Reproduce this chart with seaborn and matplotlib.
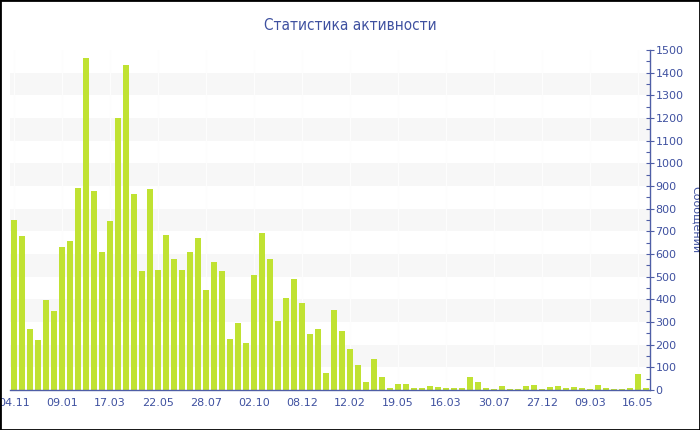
import matplotlib
matplotlib.use("Agg")
import matplotlib.pyplot as plt
import seaborn as sns
import pandas as pd
from matplotlib.patches import Rectangle
from matplotlib.ticker import MultipleLocator

title = "Статистика активности"
y_label = "Сообщений"

tick_labels = ["04.11", "09.01", "17.03", "22.05", "28.07", "02.10", "08.12",
               "12.02", "19.05", "16.03", "30.07", "27.12", "09.03", "16.05"]

values = [750, 680, 270, 221, 396, 349, 629, 657, 893, 1466,
          878, 607, 746, 1199, 1434, 863, 525, 888, 528, 685,
          578, 528, 609, 669, 443, 563, 526, 224, 297, 206,
          509, 694, 578, 303, 407, 491, 385, 246, 269, 75,
          351, 259, 181, 109, 34, 137, 59, 10, 25, 26,
          10, 10, 18, 12, 7, 9, 9, 57, 34, 10,
          5, 17, 4, 4, 18, 24, 6, 12, 18, 10,
          12, 7, 6, 24, 10, 6, 6, 9, 70, 7]

periods = list(range(len(values)))
df = pd.DataFrame({"period": periods, "count": values})

bar_color = "#c0e232"
axis_color = "#4f5ea6"
text_color = "#3f51a0"

sns.set_theme(style="white")
plt.rcParams["font.family"] = ["DejaVu Sans"]

fig = plt.figure(figsize=(7, 4.3), dpi=100)
ax = fig.add_axes([10 / 700, 40 / 430, 640 / 700, 340 / 430])

for lo in range(100, 1500, 200):
    ax.axhspan(lo, lo + 100, color="#f7f7f7", zorder=0, lw=0)
label_pos = list(range(0, len(values), 6))
for p in label_pos:
    ax.axvline(p, color="#fdfdfd", lw=0.8, zorder=0.5)

sns.barplot(data=df, x="period", y="count", color=bar_color, saturation=1,
            width=0.75, ax=ax, zorder=2, linewidth=0)

ax.set_xlim(-0.5, len(values) - 0.5)
ax.set_ylim(0, 1500)
ax.set_xticks(label_pos)
ax.set_xticklabels(tick_labels)
ax.set_xlabel("")
ax.set_ylabel("")

ax.yaxis.tick_right()
ax.yaxis.set_major_locator(MultipleLocator(100))
ax.yaxis.set_minor_locator(MultipleLocator(50))
ax.tick_params(axis="y", which="major", direction="inout", length=6, width=0.8,
               colors=axis_color, labelcolor=text_color, labelsize=8, pad=1,
               right=True, left=False)
ax.tick_params(axis="y", which="minor", direction="in", length=3, width=0.8,
               colors=axis_color, right=True, left=False)
ax.tick_params(axis="x", direction="out", length=4, width=0.8, colors=axis_color,
               labelcolor=text_color, labelsize=8, pad=2)

for s in ["top", "left"]:
    ax.spines[s].set_visible(False)
for s in ["bottom", "right"]:
    ax.spines[s].set_visible(True)
    ax.spines[s].set_color(axis_color)
    ax.spines[s].set_linewidth(1)

fig.text(0.5, 1 - 25 / 430, title, ha="center", va="center", fontsize=11,
         color=text_color, fontstretch="condensed")
fig.text(691 / 700, 0.5 + (215 - 220) / 430 + 0.0, y_label, rotation=270,
         ha="left", va="center", fontsize=8, color=text_color)

fig.patches.append(Rectangle((0, 0), 1, 1, transform=fig.transFigure,
                             fill=False, edgecolor="black", lw=2, zorder=10))

fig.savefig("out.png", dpi=100)
